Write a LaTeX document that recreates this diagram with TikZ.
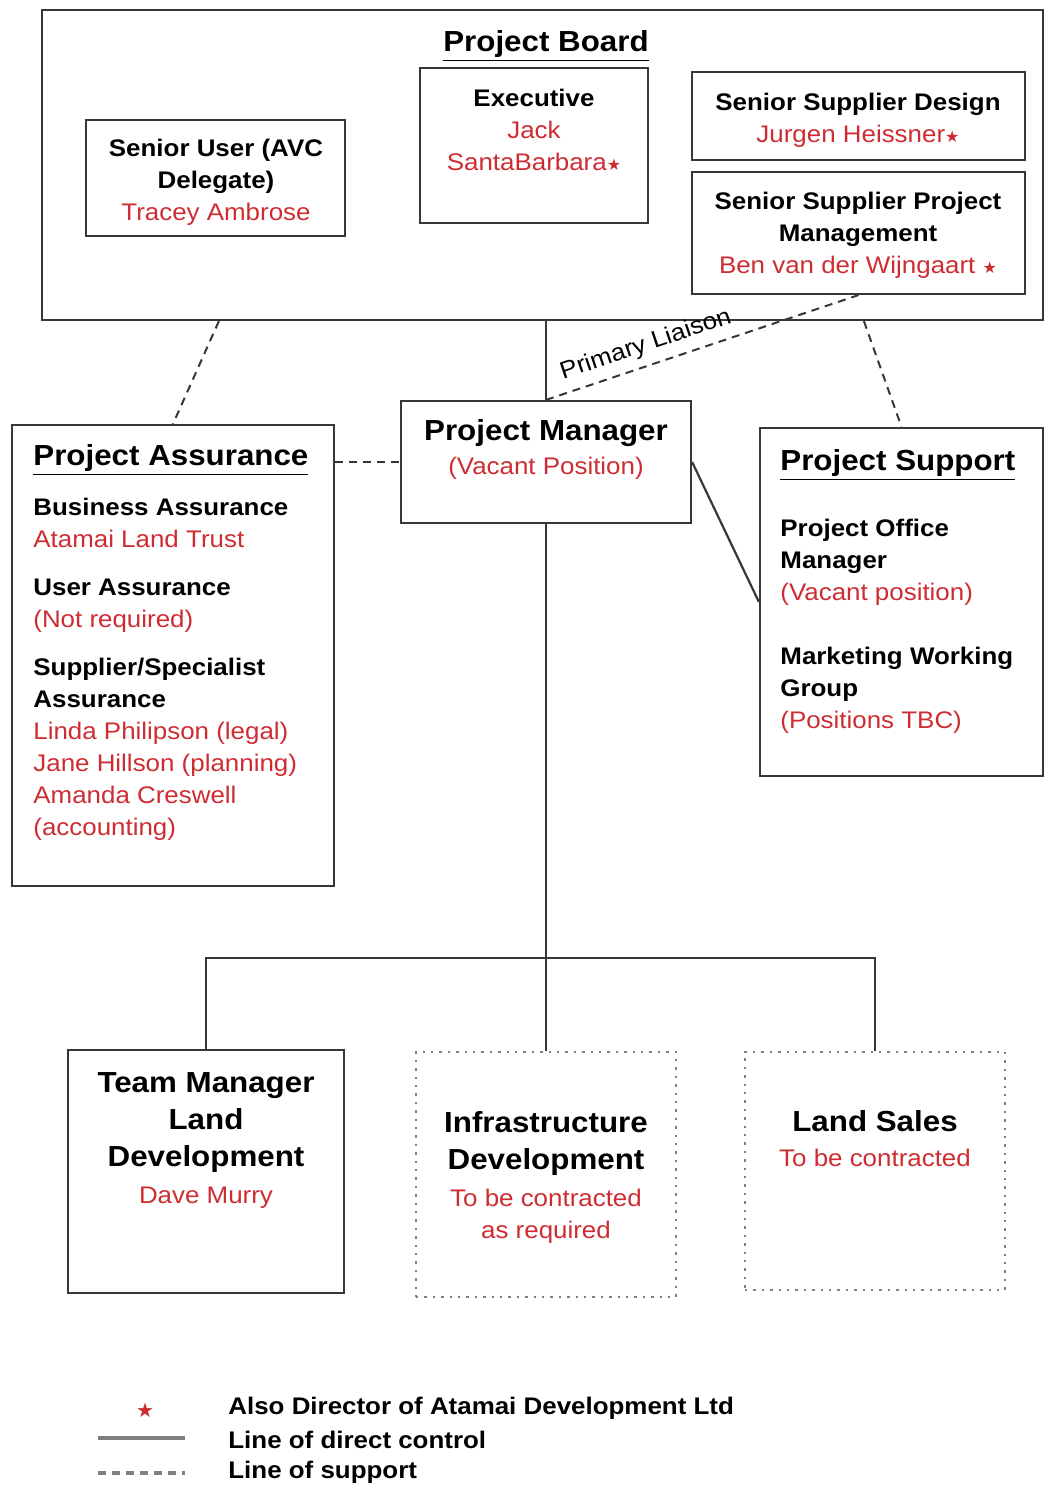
\documentclass[tikz,border=0pt]{standalone}
\usepackage{fontspec}
\setmainfont[FakeStretch=1.08]{Liberation Sans}
\newfontfamily\starfont{DejaVu Sans}
\usetikzlibrary{positioning, fit, calc}

\definecolor{namered}{RGB}{205,45,50}
\definecolor{linegray}{RGB}{55,55,55}
\newcommand{\bodyfont}{\fontsize{12}{16}\selectfont}
\newcommand{\bigfont}{\fontsize{14.5}{18.5}\selectfont\bfseries}
\newcommand{\who}[1]{{\mdseries\bodyfont\color{namered}#1}}
\newcommand{\dirstar}{{\starfont\fontsize{8}{8}\selectfont\color{namered}★}}

\begin{document}
\begin{tikzpicture}[
        x=0.5pt, y=-0.5pt,
        every node/.style={font=\bodyfont, inner sep=0pt},
        box/.style={draw=linegray, line width=1.1pt},
        contracted/.style={draw=gray, line width=1pt, dash pattern=on 1.2pt off 3pt},
        control/.style={draw=linegray, line width=1.1pt},
        support/.style={draw=linegray, line width=1pt, dash pattern=on 4pt off 3pt},
        role/.style={align=center, font=\bodyfont\bfseries},
        unit/.style={align=center, font=\bigfont}
    ]
        \useasboundingbox (0,0) rectangle (1045,1486);

        % Project board
        \node[box, fit={(42,10) (1043,320)}] (board) {};
        \node[font=\bigfont] (board-title) at (546,46) {\underline{Project Board}};

        \node[box, fit={(86,120) (345,236)}] (su) {};
        \node[role] (su-text) at (216,182) {Senior User (AVC\\Delegate)\\\who{Tracey Ambrose}};

        \node[box, fit={(420,68) (648,223)}] (exec) {};
        \node[role] (exec-text) at (534,130) {Executive\\\who{Jack}\\\who{SantaBarbara\dirstar}};

        \node[box, fit={(692,72) (1025,160)}] (ssd) {};
        \node[role] (ssd-text) at (858,120) {Senior Supplier Design\\\who{Jurgen Heissner\dirstar}};

        \node[box, fit={(692,172) (1025,294)}] (sspm) {};
        \node[role] (sspm-text) at (858,235) {Senior Supplier Project\\Management\\\who{Ben van der Wijngaart \dirstar}};

        % Project manager, assurance, support
        \node[box, fit={(401,401) (691,523)}] (pm) {};
        \node[unit] (pm-text) at (546,449) {Project Manager\\[-1.5pt]\who{(Vacant Position)}};

        \node[box, fit={(12,425) (334,886)}] (pa) {};
        \node[anchor=north west, align=left, font=\bodyfont\bfseries] (pa-text) at (33,444) {%
            {\bigfont\underline{Project Assurance}}\\[9pt]
            Business Assurance\\ \who{Atamai Land Trust}\\[8pt]
            User Assurance\\ \who{(Not required)}\\[8pt]
            Supplier/Specialist\\ Assurance\\ \who{Linda Philipson (legal)}\\
            \who{Jane Hillson (planning)}\\ \who{Amanda Creswell}\\ \who{(accounting)}};

        \node[box, fit={(760,428) (1043,776)}] (ps) {};
        \node[anchor=north west, align=left, font=\bodyfont\bfseries] (ps-text) at (780,449) {%
            {\bigfont\underline{Project Support}}\\[17pt]
            Project Office\\ Manager\\ \who{(Vacant position)}\\[16pt]
            Marketing Working\\ Group\\ \who{(Positions TBC)}};

        % Teams
        \node[box, fit={(68,1050) (344,1293)}] (tm) {};
        \node[unit] (tm-text) at (206,1141) {Team Manager\\Land\\Development\\\who{Dave Murry}};

        \node[contracted, fit={(416,1052) (676,1297)}] (infra) {};
        \node[unit] (infra-text) at (546,1177) {Infrastructure\\Development\\\who{To be contracted}\\[-2.5pt]\who{as required}};

        \node[contracted, fit={(745,1052) (1005,1290)}] (ls) {};
        \node[unit] (ls-text) at (875,1139) {Land Sales\\[-1pt]\who{To be contracted}};

        % Lines of direct control
        \coordinate (split) at (546,958);
        \draw[control] (pm.north |- board.south) -- (pm.north);
        \draw[control] (pm.south) -- (split);
        \draw[control] (tm.north) -- (tm.north |- split) -- (ls.north |- split) -- (ls.north);
        \draw[control] (split) -- (infra.north);
        \draw[control] (pm.east) -- (ps.west);

        % Lines of support
        \draw[support] ($(board.south west)+(178,0)$) -- (pa.north);
        \draw[support] ($(board.south west)+(823,0)$) -- (ps.north);
        \draw[support] (pa.east |- pm.west) -- (pm.west);
        \draw[support] (pm.north) -- node[pos=0.34, sloped, above=4pt] (liaison) {Primary Liaison} (sspm.south);

        % Key
        \node[text=namered, font=\starfont\fontsize{10}{12}\selectfont] (key-star) at (145,1410) {★};
        \coordinate (key-solid-a) at (98,1438);
        \coordinate (key-solid-b) at (185,1438);
        \coordinate (key-dash-a) at (98,1473);
        \coordinate (key-dash-b) at (185,1473);
        \draw[draw=gray, line width=1.6pt] (key-solid-a) -- (key-solid-b);
        \draw[draw=gray, line width=1.6pt, dash pattern=on 4pt off 3pt] (key-dash-a) -- (key-dash-b);
        \node[anchor=west, font=\bodyfont\bfseries] (key-star-text) at (228,1408) {Also Director of Atamai Development Ltd};
        \node[anchor=west, font=\bodyfont\bfseries] (key-solid-text) at (228,1440) {Line of direct control};
        \node[anchor=west, font=\bodyfont\bfseries] (key-dash-text) at (228,1472) {Line of support};
    \end{tikzpicture}
\end{document}
